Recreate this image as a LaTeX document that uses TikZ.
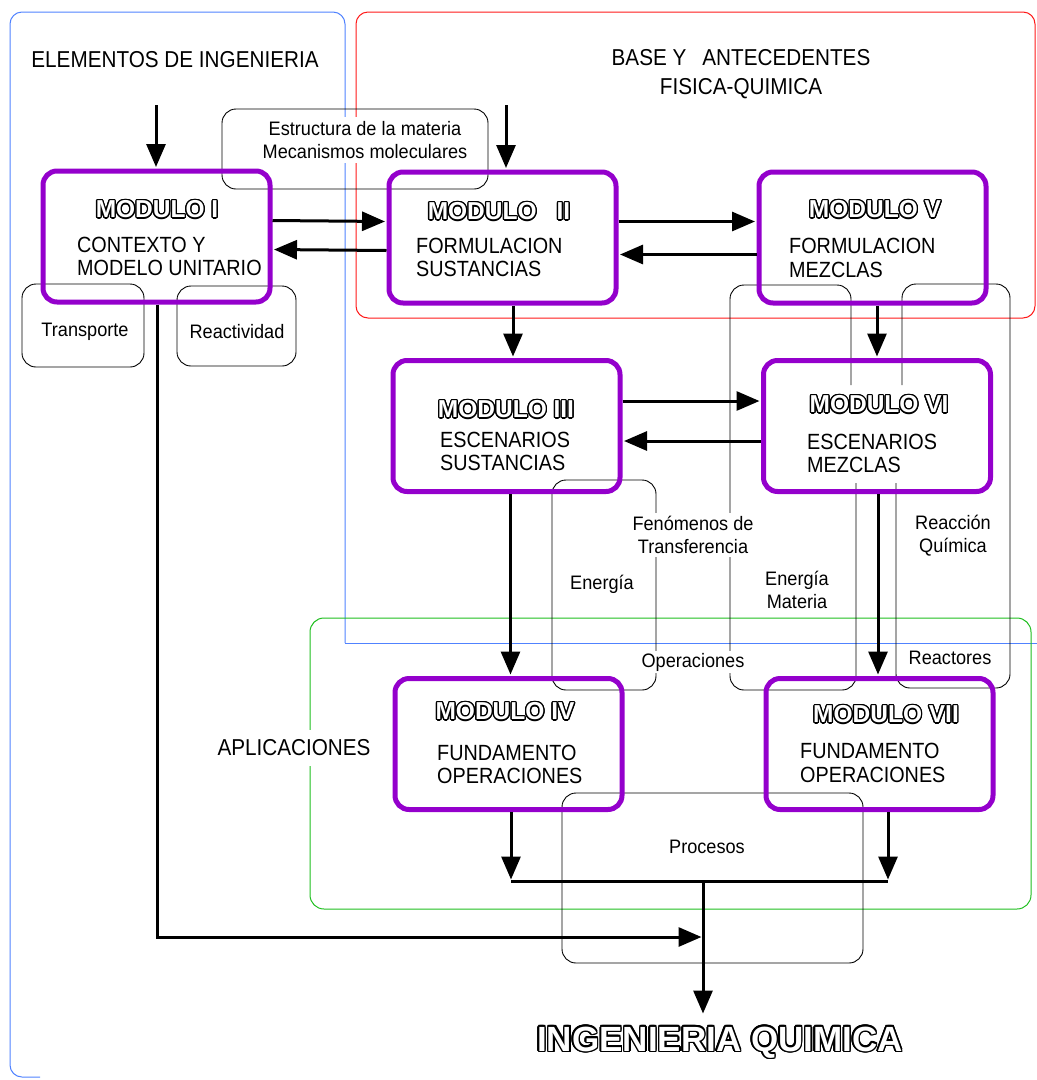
\documentclass[tikz,border=0pt]{standalone}
\usepackage{fontspec}
\setmainfont{Liberation Sans}[FakeStretch=0.9]
\newfontfamily\lblfont{Liberation Sans}[FakeStretch=0.93]
\newfontfamily\modfont{Liberation Sans}
\usepackage{contour}
\contourlength{1.3pt}
\usepackage{tikz}
\usetikzlibrary{arrows.meta,calc,positioning}
\definecolor{modpurple}{RGB}{148,0,204}
\definecolor{frameblue}{RGB}{80,130,255}
\definecolor{framered}{RGB}{255,25,25}
\definecolor{framegreen}{RGB}{30,190,30}
\newcommand{\modname}[1]{\textcolor{white}{\contour{black}{#1}}}

\begin{document}
\begin{tikzpicture}[x=1pt, y=-1pt, >={Triangle[length=23pt,width=19pt]}]
\tikzset{modbox/.style={draw=modpurple,line width=5pt,rounded corners=14pt,minimum width=227pt,minimum height=131pt,inner sep=0pt},
thinbox/.style={draw,line width=0.9pt,rounded corners=14pt,inner sep=0pt},
thinline/.style={line width=0.9pt,rounded corners=14pt},
arr/.style={->,line width=3pt,shorten >=1.5pt},
modtitle/.style={font=\modfont\bfseries\fontsize{24.5}{26}\selectfont,inner sep=0pt},
modtext/.style={font=\fontsize{22}{23.5}\selectfont,align=left,anchor=west,inner sep=0pt},
heading/.style={font=\fontsize{23}{29}\selectfont,align=center,inner sep=0pt},
lbl/.style={font=\lblfont\fontsize{19.5}{23}\selectfont,align=center,inner sep=0pt},
whitelbl/.style={lbl,fill=white,inner sep=4pt}}
\useasboundingbox (0,0) rectangle (1037,1080);

%% Frames
\draw[frameblue,line width=1pt] (345,643) -- (1037,643);
\draw[frameblue,line width=1pt,rounded corners=12pt] (345,643) -- (345,12) -- (10,12) -- (10,1077) -- (40,1077);
\draw[framered,line width=1pt,rounded corners=12pt] (356,12) rectangle (1035,318);
\draw[framegreen,line width=1pt,rounded corners=14pt] (310,618) rectangle (1031,909);

\node (ele) [heading] at (175,60) {ELEMENTOS DE INGENIERIA};
\node (base) [heading] at (741,74) {BASE Y\hspace{16pt}ANTECEDENTES\\FISICA-QUIMICA};
\node (apl) [heading,fill=white,inner xsep=2pt,inner ysep=10pt] at (294,748) {APLICACIONES};

%% Thin boxes
\node (bEstr) [thinbox,minimum width=266pt,minimum height=80pt] at (355,149) {};
\node (bTransp) [thinbox,minimum width=122pt,minimum height=83pt] at (83,325.5) {};
\node (bReact) [thinbox,minimum width=119pt,minimum height=80pt] at (236.5,326) {};
\node (bEner) [thinbox,minimum width=104pt,minimum height=210pt] at (604,585) {};
\node (bProc) [thinbox,minimum width=301pt,minimum height=170pt] at (712.5,878) {};
\draw[thinline] (851,385) -- (851,285) -- (730,285) -- (730,690) -- (856,690) -- (856,483);
\draw[thinline] (902,385) -- (902,284) -- (1010,284) -- (1010,688) -- (896,688) -- (896,483);

%% Modules
\node (m1) [modbox] at (156.5,236.5) {};
\node (m2) [modbox] at (502.5,237.5) {};
\node (m5) [modbox] at (872.5,237.5) {};
\node (m3) [modbox] at (506.5,426) {};
\node (m6) [modbox] at (877,426) {};
\node (m4) [modbox] at (508.5,744) {};
\node (m7) [modbox] at (879.5,744) {};

\foreach \u/\x/\y/\lab in {m1/157/210/MODULO I, m2/499/212/MODULO\hspace{20pt}II, m5/875/210/MODULO V,
  m3/506/410/MODULO III, m6/879/405/MODULO VI, m4/505/712/MODULO IV, m7/886/715/MODULO VII}
  \node (\u t) [modtitle] at (\x,\y) {\modname{\lab}};
\node (m1b) [modtext] at (77,256.5) {CONTEXTO Y\\MODELO UNITARIO};
\node (m2b) [modtext] at (416,257.5) {FORMULACION\\SUSTANCIAS};
\node (m5b) [modtext] at (789,258) {FORMULACION\\MEZCLAS};
\node (m3b) [modtext] at (440,451.5) {ESCENARIOS\\SUSTANCIAS};
\node (m6b) [modtext] at (807,453.5) {ESCENARIOS\\MEZCLAS};
\node (m4b) [modtext] at (437,764.5) {FUNDAMENTO\\OPERACIONES};
\node (m7b) [modtext] at (800,763) {FUNDAMENTO\\OPERACIONES};

%% Labels
\node (lEstr) [whitelbl] at (365,140) {Estructura de la materia\\Mecanismos moleculares};
\node (lTransp) [lbl] at (85,332) {Transporte};
\node (lReact) [lbl] at (237,332) {Reactividad};
\node (lEner) [lbl] at (602,584) {Energ\'{\i}a};
\node (lFen) [whitelbl,inner sep=3pt] at (693,535) {Fen\'omenos de\\Transferencia};
\node (lOper) [whitelbl,inner ysep=2pt] at (693,662) {Operaciones};
\node (lEnMat) [lbl] at (797,590) {Energ\'{\i}a\\Materia};
\node (lReac) [lbl] at (953,536) {Reacci\'on\\Qu\'{\i}mica};
\node (lReactr) [lbl] at (950,658) {Reactores};
\node (lProc) [lbl] at (707,847) {Procesos};

\node (iq) [font=\modfont\bfseries\fontsize{35}{40}\selectfont,inner sep=0pt] at (720,1043) {\contourlength{1.5pt}\modname{INGENIERIA QUIMICA}};

%% Arrows
\coordinate (in1) at (156,105);
\coordinate (in2) at (506,105);
\draw[arr] (in1) -- (in1 |- m1.north);
\draw[arr] (in2) -- (in2 |- m2.north);
\draw[arr] ($(m1.east)+(0,-16)$) -- ($(m2.west)+(0,-16)$);
\draw[arr] ($(m2.west)+(0,13)$) -- ($(m1.east)+(0,13)$);
\draw[arr] ($(m2.east)+(0,-16)$) -- ($(m5.west)+(0,-16)$);
\draw[arr] ($(m5.west)+(0,17)$) -- ($(m2.east)+(0,17)$);
\draw[arr] ($(m3.east)+(0,-25)$) -- ($(m6.west)+(0,-25)$);
\draw[arr] ($(m6.west)+(0,15)$) -- ($(m3.east)+(0,15)$);
\draw[arr] ($(m2.south)+(10.5,0)$) coordinate (t) -- (t |- m3.north);
\draw[arr] ($(m5.south)+(4.5,0)$) coordinate (t) -- (t |- m6.north);
\draw[arr] ($(m3.south)+(4,0)$) coordinate (t) -- (t |- m4.north);
\draw[arr] ($(m6.south)+(1,0)$) coordinate (t) -- (t |- m7.north);

\coordinate (j4) at (511,881);
\coordinate (j7) at (888,881);
\coordinate (jq) at (703,881);
\coordinate (c1) at (157,937);
\draw[arr] (m4.south -| j4) -- (j4);
\draw[arr] (m7.south -| j7) -- (j7);
\draw[line width=3pt] (j4) -- (j7);
\draw[arr] (jq) -- ++(0,134);
\draw[arr] (m1.south -| c1) -- (c1) -- (c1 -| jq);

\end{tikzpicture}
\end{document}
